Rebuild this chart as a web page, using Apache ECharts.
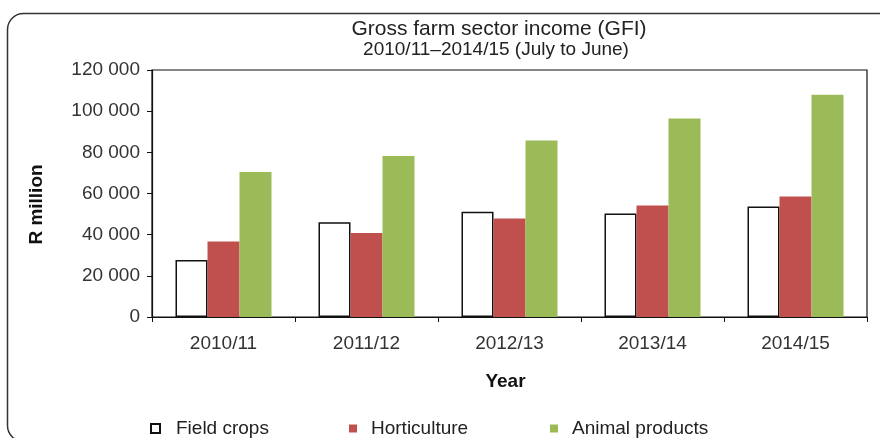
<!DOCTYPE html>
<html>
<head>
<meta charset="utf-8">
<script src="https://cdn.jsdelivr.net/npm/echarts@6/dist/echarts.min.js"></script>
<style>
html,body{margin:0;padding:0;background:#fff;}
#c{width:880px;height:438px;}
</style>
</head>
<body>
<div id="c"></div>
<script>
var categories = ['2010/11', '2011/12', '2012/13', '2013/14', '2014/15'];
var fieldCrops = [27700, 46000, 51100, 50300, 53700];
var horticulture = [36700, 40800, 47900, 54200, 58500];
var animalProducts = [70500, 78200, 85700, 96400, 108000];
var yTicks = [0, 20000, 40000, 60000, 80000, 100000, 120000];

var chart = echarts.init(document.getElementById('c'));
var baseFont = 'Liberation Sans, Arial, sans-serif';

function fmt(v) {
  return String(v).replace(/\B(?=(\d{3})+(?!\d))/g, ' ');
}

var legendText = {color: '#222', fontSize: 19, fontFamily: baseFont, padding: [0, 0, 0, 9]};

chart.setOption({
  animation: false,
  backgroundColor: '#fff',
  graphic: [{
    type: 'rect',
    shape: {x: 7.5, y: 13.5, width: 900, height: 428, r: 16},
    style: {fill: 'none', stroke: '#333', lineWidth: 1.5},
    silent: true,
    z: -1
  }],
  title: [{
    text: 'Gross farm sector income (GFI)',
    left: 494, top: 14, textAlign: 'center',
    textStyle: {fontFamily: baseFont, fontSize: 21, fontWeight: 'normal', color: '#222'}
  }, {
    text: '2010/11\u20132014/15 (July to June)',
    left: 491, top: 35, textAlign: 'center',
    textStyle: {fontFamily: baseFont, fontSize: 19, fontWeight: 'normal', color: '#222'}
  }],
  legend: [{
    data: ['Field crops'], left: 145, top: 414, icon: 'rect', itemWidth: 9, itemHeight: 9,
    textStyle: {color: '#222', fontSize: 19, fontFamily: baseFont, padding: [0, 0, 0, 11]}
  }, {
    data: ['Horticulture'], left: 344, top: 414, icon: 'rect', itemWidth: 8, itemHeight: 8,
    textStyle: legendText
  }, {
    data: ['Animal products'], left: 545, top: 414, icon: 'rect', itemWidth: 8, itemHeight: 8,
    textStyle: legendText
  }],
  grid: {left: 152, right: 13, top: 70, bottom: 121, show: true, borderColor: '#111', borderWidth: 1.2, backgroundColor: 'transparent'},
  xAxis: {
    type: 'category',
    data: categories,
    name: 'Year',
    nameLocation: 'middle',
    nameGap: 55,
    nameTextStyle: {fontFamily: baseFont, fontSize: 19, fontWeight: 'bold', color: '#111', padding: [0, 0, 0, -8]},
    axisLine: {lineStyle: {color: '#111', width: 1.2}},
    axisTick: {show: true, length: 5, lineStyle: {color: '#111'}},
    axisLabel: {fontFamily: baseFont, fontSize: 19, color: '#333', margin: 17}
  },
  yAxis: {
    type: 'value',
    min: 0, max: 120000, interval: 20000,
    name: 'R million',
    nameLocation: 'middle',
    nameGap: 106,
    nameRotate: 90,
    nameTextStyle: {fontFamily: baseFont, fontSize: 19, fontWeight: 'bold', color: '#111', padding: [0, 22, 0, 0]},
    axisLine: {show: true, lineStyle: {color: '#111', width: 1.2}},
    axisTick: {show: true, length: 5, lineStyle: {color: '#111'}},
    splitLine: {show: false},
    axisLabel: {fontFamily: baseFont, fontSize: 19, color: '#333', margin: 12, formatter: function (v) { return fmt(v); }}
  },
  series: [{
    name: 'Field crops', type: 'bar', data: fieldCrops, barWidth: 32, barGap: '0%',
    itemStyle: {color: '#ffffff', borderColor: '#111', borderWidth: 1.5}
  }, {
    name: 'Horticulture', type: 'bar', data: horticulture, barWidth: 32, barGap: '0%',
    itemStyle: {color: '#C0504D'}
  }, {
    name: 'Animal products', type: 'bar', data: animalProducts, barWidth: 32, barGap: '0%',
    itemStyle: {color: '#9BBB59'}
  }]
});
</script>
</body>
</html>
